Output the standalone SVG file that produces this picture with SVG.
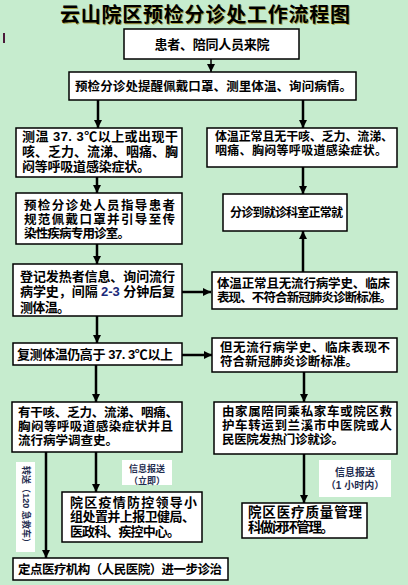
<svg xmlns="http://www.w3.org/2000/svg" width="408" height="585" viewBox="0 0 408 585">
<defs>
<marker id="ah" markerUnits="userSpaceOnUse" markerWidth="8" markerHeight="8" refX="8" refY="4" orient="auto">
<path d="M0,0 L8,4 L0,8 z" fill="#000"/>
</marker>
<style>
.box{fill:#fff;stroke:#000;stroke-width:1.5}
.t{font-family:"Liberation Sans","Noto Sans CJK SC",sans-serif;font-weight:700;fill:#000}
.c{stroke:#000;stroke-width:2.5;fill:none;marker-end:url(#ah)}
.lbl{fill:#fff}
.lt{font-family:"Liberation Sans","Noto Sans CJK SC",sans-serif;font-weight:700;fill:#1f2d50}
</style>
</defs>
<rect x="0" y="0" width="408" height="585" fill="#c6ecce"/>
<rect x="3" y="33" width="2" height="10" fill="#4a1a3a"/>
<g id="title">
<text class="t" x="206" y="23" font-size="20" text-anchor="middle" textLength="290" style="fill:#a8a040">云山院区预检分诊处工作流程图</text>
<text class="t" x="205" y="22" font-size="20" text-anchor="middle" textLength="290">云山院区预检分诊处工作流程图</text>
</g>
<g id="connectors">
<line x1="211" y1="59" x2="211" y2="72" style="stroke:#000;stroke-width:1.5;marker-end:url(#ah)"/>
<line class="c" x1="98" y1="100" x2="98" y2="128"/>
<line class="c" x1="303" y1="100" x2="303" y2="128"/>
<line class="c" x1="97" y1="177" x2="97" y2="193"/>
<line class="c" x1="303" y1="167" x2="303" y2="194"/>
<line class="c" x1="303" y1="272" x2="303" y2="231"/>
<line class="c" x1="97" y1="244" x2="97" y2="264"/>
<line class="c" x1="182" y1="292" x2="211" y2="292"/>
<line class="c" x1="97" y1="316" x2="97" y2="343"/>
<line class="c" x1="182" y1="355" x2="212" y2="355"/>
<line class="c" x1="96" y1="365" x2="96" y2="402"/>
<line class="c" x1="304" y1="372" x2="304" y2="402"/>
<line class="c" x1="46" y1="452" x2="46" y2="558"/>
<line class="c" x1="96" y1="452" x2="96" y2="492"/>
<line class="c" x1="304" y1="454" x2="304" y2="503"/>
</g>
<g id="n1">
<rect class="box" x="124" y="29" width="175" height="30"/>
<text class="t" x="212" y="49" font-size="13" text-anchor="middle" textLength="115">患者、陪同人员来院</text>
</g>
<g id="n2">
<rect class="box" x="69" y="72" width="287" height="28"/>
<text class="t" x="75" y="91" font-size="12.5" textLength="277">预检分诊处提醒佩戴口罩、测里体温、询问病情。</text>
</g>
<g id="n3">
<rect class="box" x="16" y="128" width="166" height="49"/>
<text class="t" font-size="13"><tspan x="22" y="141" textLength="156">测温 37. 3℃以上或出现干</tspan><tspan x="22" y="156" textLength="156">咳、乏力、流涕、咽痛、胸</tspan><tspan x="22" y="171" textLength="128">闷等呼吸道感染症状。</tspan></text>
</g>
<g id="n4">
<rect class="box" x="207" y="128" width="190" height="39"/>
<text class="t" font-size="12"><tspan x="215" y="140.5" textLength="178">体温正常且无干咳、乏力、流涕、</tspan><tspan x="215" y="154.5" textLength="172">咽痛、胸闷等呼吸道感染症状。</tspan></text>
</g>
<g id="n5">
<rect class="box" x="16" y="193" width="166" height="51"/>
<text class="t" font-size="12.5"><tspan x="24" y="210" textLength="151">预检分诊处人员指导患者</tspan><tspan x="24" y="224" textLength="151">规范佩戴口罩并引导至传</tspan><tspan x="24" y="238" textLength="106">染性疾病专用诊室。</tspan></text>
</g>
<g id="n6">
<rect class="box" x="223" y="194" width="124" height="37"/>
<text class="t" x="230" y="216.5" font-size="12" textLength="113">分诊到就诊科室正常就</text>
</g>
<g id="n7">
<rect class="box" x="13" y="264" width="169" height="52"/>
<text class="t" font-size="13"><tspan x="20" y="280.5" textLength="155">登记发热者信息、询问流行</tspan><tspan x="20" y="296" textLength="155">病学史，间隔 <tspan style="fill:#1a2a7a">2-3</tspan> 分钟后复</tspan><tspan x="20" y="311.5" textLength="50">测体温。</tspan></text>
</g>
<g id="n8">
<rect class="box" x="212" y="272" width="185" height="37"/>
<text class="t" font-size="12.5"><tspan x="217" y="287.5" textLength="173">体温正常且无流行病学史、临床</tspan><tspan x="217" y="301.5" textLength="175">表现、不符合新冠肺炎诊断标准。</tspan></text>
</g>
<g id="n9">
<rect class="box" x="13" y="343" width="169" height="22"/>
<text class="t" x="17" y="358.5" font-size="13" textLength="156">复测体温仍高于 37. 3℃以上</text>
</g>
<g id="n10">
<rect class="box" x="212" y="338" width="185" height="34"/>
<text class="t" font-size="12.5"><tspan x="220" y="352" textLength="170">但无流行病学史、临床表现不</tspan><tspan x="220" y="366" textLength="138">符合新冠肺炎诊断标准。</tspan></text>
</g>
<g id="n11">
<rect class="box" x="12" y="402" width="170" height="50"/>
<text class="t" font-size="12.5"><tspan x="18" y="417" textLength="160">有干咳、乏力、流涕、咽痛、</tspan><tspan x="18" y="431" textLength="155">胸闷等呼吸道感染症状并且</tspan><tspan x="18" y="445" textLength="100">流行病学调查史。</tspan></text>
</g>
<g id="n12">
<rect class="box" x="214" y="402" width="183" height="52"/>
<text class="t" font-size="12.5"><tspan x="222" y="416" textLength="170">由家属陪同乘私家车或院区救</tspan><tspan x="222" y="430" textLength="170">护车转运到兰溪市中医院或人</tspan><tspan x="222" y="444" textLength="122">民医院发热门诊就诊。</tspan></text>
</g>
<g id="lbl1">
<rect class="lbl" x="16" y="462" width="19" height="90"/>
<text class="lt" transform="translate(22.5,466) rotate(90)" font-size="9" textLength="81">转送（120 急救车）</text>
</g>
<g id="lbl2">
<rect class="lbl" x="122" y="460" width="50" height="25"/>
<text class="lt" font-size="9" text-anchor="middle"><tspan x="147" y="472">信息报送</tspan><tspan x="147" y="483.5">（立即）</tspan></text>
</g>
<g id="lbl3">
<rect class="lbl" x="319" y="460" width="72" height="37"/>
<text class="lt" font-size="10" text-anchor="middle"><tspan x="355" y="476">信息报送</tspan><tspan x="355" y="489">（1 小时内）</tspan></text>
</g>
<g id="n13">
<rect class="box" x="62" y="492" width="140" height="50"/>
<text class="t" font-size="13"><tspan x="70" y="506.5" textLength="127">院区疫情防控领导小</tspan><tspan x="70" y="521" textLength="125">组处置并上报卫健局、</tspan><tspan x="70" y="535.5" textLength="110">医政科、疾控中心。</tspan></text>
</g>
<g id="n14">
<rect class="box" x="242" y="503" width="125" height="35"/>
<text class="t" font-size="13.5"><tspan x="248" y="517" textLength="114">院区医疗质量管理</tspan><tspan x="248" y="532" textLength="86">科做闭环管理。</tspan></text>
</g>
<g id="n15">
<rect class="box" x="13" y="558" width="215" height="22"/>
<text class="t" x="18" y="573.5" font-size="12.5" textLength="204">定点医疗机构（人民医院）进一步诊治</text>
</g>
</svg>
